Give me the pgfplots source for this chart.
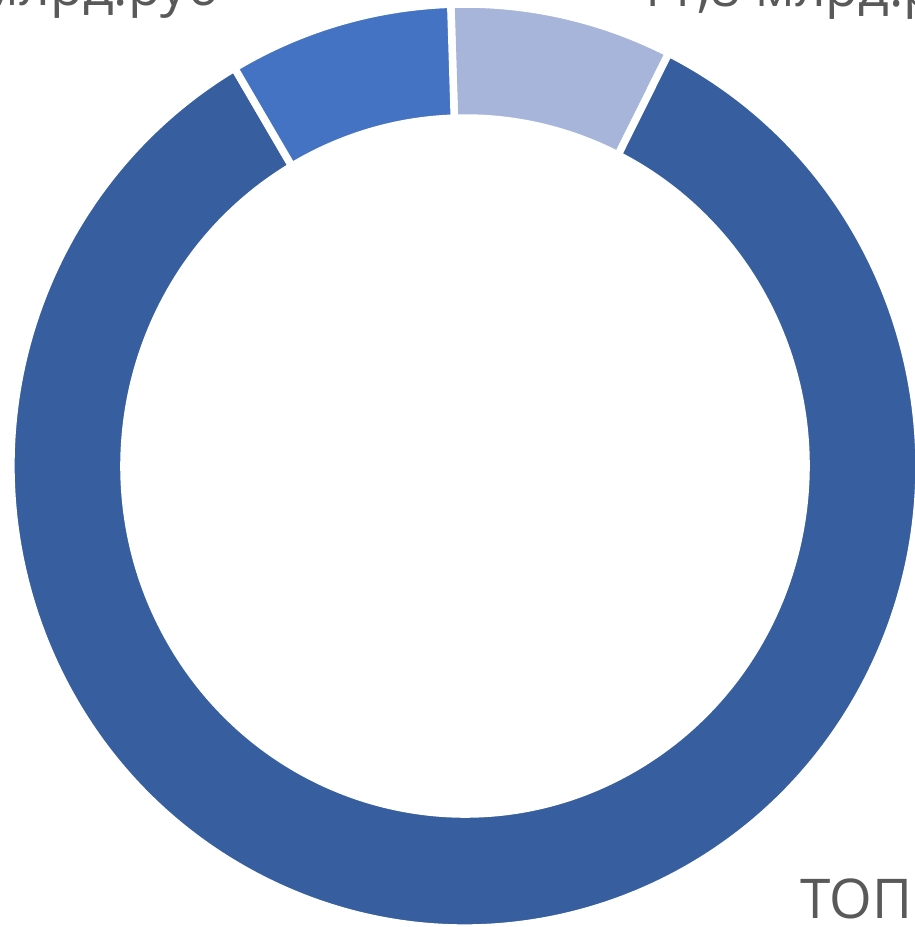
\documentclass[border=0pt]{standalone}
\usepackage{fontspec}
\setmainfont{Open Sans}
\usepackage{pgfplots}
\usepackage{pgfplotstable}
\pgfplotsset{compat=1.18}
\definecolor{cLight}{HTML}{A7B5DA}
\definecolor{cDark}{HTML}{375E9F}
\definecolor{cMed}{HTML}{4573C4}
\definecolor{cText}{HTML}{595959}
% slices in clockwise order from the start angle
\pgfplotstableread{
label value
A 11.8
B 125.5
C 11.9
}\slices
\begin{document}
\begin{tikzpicture}
\pgfplotstablegetelem{0}{value}\of\slices \let\vA\pgfplotsretval
\pgfplotstablegetelem{1}{value}\of\slices \let\vB\pgfplotsretval
\pgfplotstablegetelem{2}{value}\of\slices \let\vC\pgfplotsretval
\pgfmathsetmacro{\tot}{\vA+\vB+\vC}
\pgfmathsetmacro{\aO}{91.8}
\pgfmathsetmacro{\aA}{\aO-360*(\vA/\tot)}
\pgfmathsetmacro{\aB}{\aA-360*(\vB/\tot)}
\pgfmathsetmacro{\aC}{\aB-360*(\vC/\tot)}
\def\cx{465}\def\cy{461}
\def\Rx{454}\def\Ry{462}\def\rx{341}\def\ry{348}
\begin{axis}[
  hide axis, scale only axis,
  width=915bp, height=927bp,
  xmin=0, xmax=915, ymin=0, ymax=927,
  clip=false,
]
\addplot[draw=none] coordinates {(0,0) (915,927)};
\fill[cLight, draw=white, line width=7.5bp]
  (axis cs:{\cx+\Rx*cos(\aO)},{\cy+\Ry*sin(\aO)}) arc[start angle=\aO, end angle=\aA, x radius=\Rx, y radius=\Ry]
  -- (axis cs:{\cx+\rx*cos(\aA)},{\cy+\ry*sin(\aA)}) arc[start angle=\aA, end angle=\aO, x radius=\rx, y radius=\ry] -- cycle;
\fill[cDark, draw=white, line width=7.5bp]
  (axis cs:{\cx+\Rx*cos(\aA)},{\cy+\Ry*sin(\aA)}) arc[start angle=\aA, end angle=\aB, x radius=\Rx, y radius=\Ry]
  -- (axis cs:{\cx+\rx*cos(\aB)},{\cy+\ry*sin(\aB)}) arc[start angle=\aB, end angle=\aA, x radius=\rx, y radius=\ry] -- cycle;
\fill[cMed, draw=white, line width=7.5bp]
  (axis cs:{\cx+\Rx*cos(\aB)},{\cy+\Ry*sin(\aB)}) arc[start angle=\aB, end angle=\aC, x radius=\Rx, y radius=\Ry]
  -- (axis cs:{\cx+\rx*cos(\aC)},{\cy+\ry*sin(\aC)}) arc[start angle=\aC, end angle=\aB, x radius=\rx, y radius=\ry] -- cycle;
\node[anchor=base east, inner sep=0pt, text=cText, font=\fontsize{54}{60}\selectfont] at (axis cs:220,921) {11,9 млрд.руб};
\node[anchor=base west, inner sep=0pt, text=cText, font=\fontsize{54}{60}\selectfont] at (axis cs:636,920) {11,8 млрд.руб};
\node[anchor=base west, inner sep=0pt, text=cText, font=\fontsize{55}{60}\selectfont] at (axis cs:800,9) {ТОП};
\end{axis}
\pgfresetboundingbox
\path (0,0) rectangle (915bp,927bp);
\end{tikzpicture}
\end{document}
